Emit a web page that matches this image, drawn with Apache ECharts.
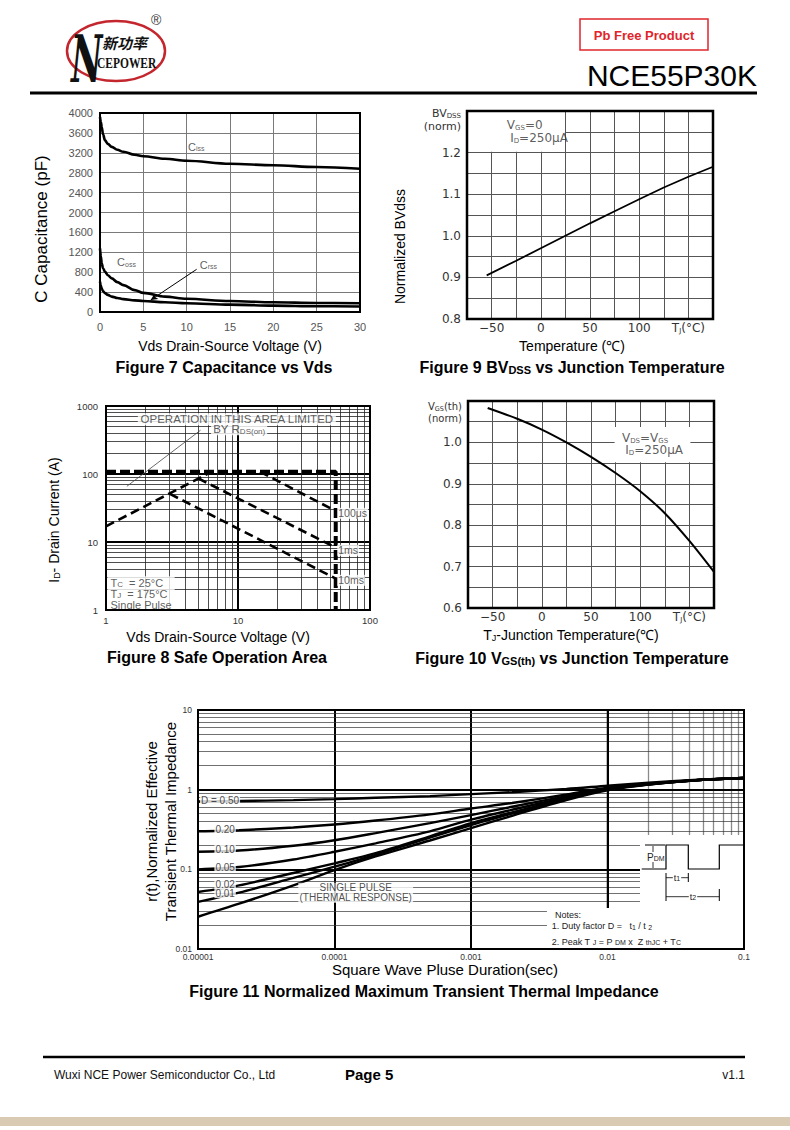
<!DOCTYPE html>
<html>
<head>
<meta charset="utf-8">
<title>NCE55P30K - Page 5</title>
<script src="https://cdn.jsdelivr.net/npm/echarts@6/dist/echarts.min.js"></script>
<style>
html,body{margin:0;padding:0;background:#fff;}
#page{width:790px;height:1130px;}
</style>
</head>
<body>
<div id="page"></div>
<script>
// ================= DATA =================
// Figure 7: Capacitance vs Vds
const capVds = [0, 0.1, 0.2, 0.35, 0.58, 0.9, 1.35, 2, 2.7, 4, 5, 7.5, 10, 15, 20, 25, 30];
const cissPF = [3920, 3820, 3720, 3570, 3450, 3380, 3320, 3260, 3220, 3160, 3130, 3080, 3040, 2980, 2950, 2915, 2880];
const cossPF = [1280, 1120, 980, 880, 810, 740, 675, 600, 540, 440, 385, 310, 265, 220, 195, 182, 175];
const crssPF = [610, 530, 470, 420, 380, 345, 310, 280, 258, 234, 222, 196, 176, 148, 128, 116, 110];
const capLabelText = ['C{s|iss}', 'C{s|oss}', 'C{s|rss}'];
const capLabelX = [11.1, 3.06, 12.5];
const capLabelY = [3317, 999, 945];
const crssArrowX = [11.15, 5.85];
const crssArrowY = [858, 241];

// Figure 9: BVdss vs Tj
const bvTemp = [-55, -25, 0, 25, 50, 75, 100, 125, 150, 175];
const bvNorm = [0.905, 0.94, 0.97, 1.0, 1.03, 1.059, 1.088, 1.116, 1.142, 1.166];
const tempTickVals = [-50, 0, 50, 100, 150];
const tempTickText = ['\u221250', '0', '50', '100', 'T{j|J}(\u00B0C)'];
const bvTickVals = [0.8, 0.9, 1.0, 1.1, 1.2, 1.3];
const bvTickText = ['0.8', '0.9', '1.0', '1.1', '1.2', '{e|}\n{a|BV}{b|DSS}\n{a|(norm)}'];
const bvBoxX = [-75, 24.5];
const bvBoxY = [1.3, 1.202];
const bvNoteText = '{n|V}{s|GS}{n|=0}\n {n|I}{s|D}{n|=250\u03BCA}';
const bvNoteAt = [-35, 1.251];

// Figure 8: Safe operation area
const soaLimitV = [1, 55, 55];
const soaLimitI = [108, 108, 1];
const rdsLimitV = [1, 6.2];
const rdsLimitI = [17, 106];
const pulse100usV = [14.7, 55];
const pulse100usI = [108, 28.5];
const pulse1msV = [5, 55];
const pulse1msI = [86, 8.3];
const pulse10msV = [3.05, 55];
const pulse10msI = [51, 2.9];
const rdsPointerV = [1.44, 5.2];
const rdsPointerI = [66, 440];
const soaXTickExp = [0, 1, 2];
const soaXTickText = ['1', '10', '100'];
const soaYTickExp = [0, 1, 2, 3];
const soaYTickText = ['1', '10', '100', '1000'];
const soaCenterText = ['OPERATION IN THIS AREA LIMITED', 'BY R{s|DS(on)}'];
const soaCenterV = [9.8, 10.2];
const soaCenterI = [637, 454];
const soaRightText = ['100\u03BCs', '1ms', '10ms'];
const soaRightV = [55, 55, 55];
const soaRightI = [26.4, 7.55, 2.73];
const soaCondText = ['T{s|C}  = 25\u00B0C\nT{s|J}  = 175\u00B0C\nSingle Pulse'];
const soaCondV = [1];
const soaCondI = [1.76];

// Figure 10: Vgs(th) vs Tj
const vthTemp = [-55, -25, 0, 25, 50, 75, 100, 125, 150, 175];
const vthNorm = [1.083, 1.057, 1.031, 1.0, 0.965, 0.926, 0.882, 0.829, 0.762, 0.687];
const vthTickVals = [0.6, 0.7, 0.8, 0.9, 1.0, 1.1];
const vthTickText = ['0.6', '0.7', '0.8', '0.9', '1.0', '{e|}\n{a|V}{b|GS}{a|(th)}\n{a|(norm)}'];
const vthBoxX = [74, 151];
const vthBoxY = [1.037, 0.952];
const vthNoteText = '{n|V}{s|DS}{n|=V}{s|GS}\n {n|I}{s|D}{n|=250\u03BCA}';
const vthNoteAt = [81, 0.996];

// Figure 11: Transient thermal impedance
const ztTime = [1e-5, 2e-5, 5e-5, 1e-4, 2e-4, 5e-4, 1e-3, 2e-3, 5e-3, 1e-2, 2e-2, 5e-2, 1e-1];
const zD50 = [0.71, 0.72, 0.74, 0.76, 0.79, 0.83, 0.88, 0.93, 1.02, 1.12, 1.22, 1.34, 1.40];
const zD20 = [0.30, 0.31, 0.335, 0.365, 0.41, 0.49, 0.58, 0.68, 0.87, 1.06, 1.19, 1.33, 1.40];
const zD10 = [0.166, 0.172, 0.198, 0.232, 0.285, 0.38, 0.48, 0.61, 0.83, 1.03, 1.18, 1.33, 1.40];
const zD05 = [0.100, 0.107, 0.133, 0.166, 0.212, 0.30, 0.42, 0.56, 0.80, 1.02, 1.17, 1.33, 1.40];
const zD02 = [0.052, 0.063, 0.090, 0.119, 0.160, 0.26, 0.38, 0.52, 0.77, 1.01, 1.17, 1.33, 1.40];
const zD01 = [0.039, 0.051, 0.078, 0.108, 0.152, 0.25, 0.36, 0.50, 0.76, 1.00, 1.16, 1.33, 1.40];
const zSingle = [0.0254, 0.037, 0.063, 0.098, 0.145, 0.23, 0.33, 0.47, 0.74, 0.98, 1.16, 1.33, 1.40];
const ztLabelText = ['D = 0.50', '0.20', '0.10', '0.05', '0.02', '0.01', 'SINGLE PULSE\n(THERMAL RESPONSE)'];
const ztLabelX = [1.45e-5, 1.58e-5, 1.58e-5, 1.58e-5, 1.58e-5, 1.58e-5, 1.43e-4];
const ztLabelY = [0.726, 0.318, 0.175, 0.104, 0.0654, 0.0503, 0.051];
const ztXTickExp = [-5, -4, -3, -2, -1];
const ztXTickText = ['0.00001', '0.0001', '0.001', '0.01', '0.1'];
const ztYTickExp = [-2, -1, 0, 1];
const ztYTickText = ['0.01', '0.1', '1', '10'];
const ztNotesBox = [[0.0036, 0.0326], [0.0985, 0.0102]];
const ztPdmBox = [[0.0173, 0.269], [0.0985, 0.0326]];

// ================= HELPERS =================
const F = '"Liberation Sans", Arial, Helvetica, sans-serif';
const FN = '"Liberation Sans Narrow", "Liberation Sans", Arial, sans-serif';
const DJ = '"DejaVu Sans", Verdana, sans-serif';
const zip = (xs, ys) => xs.map((x, i) => [x, ys[i]]);
const lookup = (vals, texts) => v => {
  for (let i = 0; i < vals.length; i++) if (Math.abs(vals[i] - v) < 1e-6) return texts[i];
  return '';
};
const logLookup = (exps, texts) => v => {
  const e = Math.round(Math.log10(v));
  if (Math.abs(Math.log10(v) - e) > 1e-6) return '';
  const i = exps.indexOf(e);
  return i < 0 ? '' : texts[i];
};
const minors = (e0, e1) => {
  const out = [];
  for (let e = e0; e < e1; e++) for (let k = 2; k <= 9; k++) out.push(k * Math.pow(10, e));
  return out;
};
const decades = (e0, e1) => {
  const out = [];
  for (let e = e0; e <= e1; e++) out.push(Math.pow(10, e));
  return out;
};
const gridBox = (l, t, w, h, bw) => ({
  left: l, top: t, width: w, height: h, show: true, z: 10,
  backgroundColor: 'transparent', borderColor: '#000', borderWidth: bw,
  containLabel: false, outerBoundsMode: 'none'
});
const noAxisLine = { axisLine: { show: false }, axisTick: { show: false } };
const curve = (idx, xs, ys, width, extra) => Object.assign({
  type: 'line', xAxisIndex: idx, yAxisIndex: idx, data: zip(xs, ys),
  showSymbol: false, symbol: 'none', silent: true, z: 3,
  lineStyle: { color: '#000', width: width }
}, extra || {});
const labelSeries = (idx, xs, ys, texts, label, z) => ({
  type: 'scatter', xAxisIndex: idx, yAxisIndex: idx, silent: true, z: z || 4,
  symbolSize: 1, itemStyle: { color: 'rgba(0,0,0,0)' },
  data: xs.map((x, i) => [x, ys[i], texts[i]]),
  label: Object.assign({ show: true, formatter: p => p.data[2] }, label)
});
const gridLines = (idx, anchor, vx, vy, styleX, styleY, z) => ({
  type: 'line', xAxisIndex: idx, yAxisIndex: idx, data: [anchor], silent: true, z: z || 1,
  showSymbol: false, symbol: 'none', lineStyle: { width: 0 },
  markLine: {
    silent: true, symbol: ['none', 'none'], z: z || 1, animation: false, label: { show: false },
    data: vx.map(v => ({ xAxis: v, lineStyle: styleX })).concat(vy.map(v => ({ yAxis: v, lineStyle: styleY })))
  }
});

// ================= OPTION =================
const option = {
  animation: false,
  backgroundColor: '#fff',
  textStyle: { fontFamily: F },
  grid: [
    gridBox(100, 113, 260, 199, 2),
    gridBox(467, 111, 246, 208, 2.5),
    gridBox(106, 406, 264, 204, 2),
    gridBox(468, 401, 246, 207, 2.5),
    gridBox(198, 710, 546, 239, 2)
  ],
  xAxis: [
    Object.assign({
      gridIndex: 0, type: 'value', min: 0, max: 30, interval: 5,
      splitLine: { show: true, lineStyle: { color: '#7a7a7a', width: 1 } },
      axisLabel: { color: '#555', fontSize: 11, margin: 9, fontFamily: F, hideOverlap: false, formatter: v => String(v) },
      name: 'Vds Drain-Source Voltage (V)', nameLocation: 'middle', nameGap: 27, nameMoveOverlap: false,
      nameTextStyle: { fontSize: 14, color: '#000', fontFamily: F }
    }, noAxisLine),
    Object.assign({
      gridIndex: 1, type: 'value', min: -75, max: 175, interval: 25,
      splitLine: { show: true, lineStyle: { color: '#555', width: 1 } },
      axisLabel: { color: '#333', fontSize: 12, margin: 3, fontFamily: DJ, hideOverlap: false,
        formatter: lookup(tempTickVals, tempTickText), rich: { j: { fontSize: 7, fontFamily: DJ, verticalAlign: 'bottom', color: '#333' } } },
      name: 'Temperature (\u2103)', nameLocation: 'middle', nameGap: 20, nameMoveOverlap: false,
      nameTextStyle: { fontSize: 14, color: '#000', fontFamily: F, padding: [0, 36, 0, 0] }
    }, noAxisLine),
    Object.assign({
      gridIndex: 2, type: 'log', logBase: 10, min: 1, max: 100,
      splitLine: { show: true, lineStyle: { color: '#000', width: 2 } },
      axisLabel: { color: '#333', fontSize: 9.5, margin: 5, fontFamily: F, hideOverlap: false,
        formatter: logLookup(soaXTickExp, soaXTickText) },
      name: 'Vds Drain-Source Voltage (V)', nameLocation: 'middle', nameGap: 20, nameMoveOverlap: false,
      nameTextStyle: { fontSize: 14, color: '#000', fontFamily: F, padding: [0, 40, 0, 0] }
    }, noAxisLine),
    Object.assign({
      gridIndex: 3, type: 'value', min: -75, max: 175, interval: 25,
      splitLine: { show: true, lineStyle: { color: '#555', width: 1 } },
      axisLabel: { color: '#333', fontSize: 12, margin: 3, fontFamily: DJ, hideOverlap: false,
        formatter: lookup(tempTickVals, tempTickText), rich: { j: { fontSize: 7, fontFamily: DJ, verticalAlign: 'bottom', color: '#333' } } },
      name: 'T{s|J}-Junction Temperature(\u2103)', nameLocation: 'middle', nameGap: 20, nameMoveOverlap: false,
      nameTextStyle: { fontSize: 14, color: '#000', fontFamily: F, padding: [0, 40, 0, 0],
        rich: { s: { fontSize: 9, fontFamily: F, verticalAlign: 'bottom', color: '#000' } } }
    }, noAxisLine),
    Object.assign({
      gridIndex: 4, type: 'log', logBase: 10, min: 1e-5, max: 0.1,
      splitLine: { show: true, lineStyle: { color: '#000', width: 2 } },
      axisLabel: { color: '#333', fontSize: 8.5, lineHeight: 8, margin: 4, fontFamily: FN, hideOverlap: false,
        formatter: logLookup(ztXTickExp, ztXTickText) },
      name: 'Square Wave Pluse Duration(sec)', nameLocation: 'middle', nameGap: 13, nameMoveOverlap: false,
      nameTextStyle: { fontSize: 15, lineHeight: 15, color: '#000', fontFamily: F, padding: [0, 52, 0, 0] }
    }, noAxisLine)
  ],
  yAxis: [
    Object.assign({
      gridIndex: 0, type: 'value', min: 0, max: 4000, interval: 400,
      splitLine: { show: true, lineStyle: { color: '#7a7a7a', width: 1 } },
      axisLabel: { color: '#555', fontSize: 11, margin: 7, fontFamily: F, hideOverlap: false, formatter: v => String(v) },
      name: 'C Capacitance (pF)', nameLocation: 'middle', nameGap: 50, nameMoveOverlap: false,
      nameTextStyle: { fontSize: 17, color: '#000', fontFamily: F, padding: [0, 33, 0, 0] }
    }, noAxisLine),
    Object.assign({
      gridIndex: 1, type: 'value', min: 0.8, max: 1.3, interval: 0.05,
      splitLine: { show: true, lineStyle: { color: '#555', width: 1 } },
      axisLabel: { color: '#333', fontSize: 12, margin: 6, fontFamily: DJ, hideOverlap: false,
        formatter: lookup(bvTickVals, bvTickText),
        rich: { a: { fontSize: 11, fontFamily: DJ, color: '#333', lineHeight: 13 },
                b: { fontSize: 7, fontFamily: DJ, color: '#333', verticalAlign: 'bottom', lineHeight: 13 },
                e: { fontSize: 1, lineHeight: 17 } } },
      name: 'Normalized BVdss', nameLocation: 'middle', nameGap: 60, nameMoveOverlap: false,
      nameTextStyle: { fontSize: 14, color: '#000', fontFamily: F, padding: [0, 63, 0, 0] }
    }, noAxisLine),
    Object.assign({
      gridIndex: 2, type: 'log', logBase: 10, min: 1, max: 1000,
      splitLine: { show: true, lineStyle: { color: '#000', width: 2 } },
      axisLabel: { color: '#333', fontSize: 9.5, margin: 8, fontFamily: F, hideOverlap: false,
        formatter: logLookup(soaYTickExp, soaYTickText) },
      name: 'I{s|D}- Drain Current (A)', nameLocation: 'middle', nameGap: 45, nameMoveOverlap: false,
      nameTextStyle: { fontSize: 14, color: '#000', fontFamily: F, padding: [0, 24, 0, 0],
        rich: { s: { fontSize: 9, fontFamily: F, verticalAlign: 'bottom', color: '#000' } } }
    }, noAxisLine),
    Object.assign({
      gridIndex: 3, type: 'value', min: 0.6, max: 1.1, interval: 0.05,
      splitLine: { show: true, lineStyle: { color: '#555', width: 1 } },
      axisLabel: { color: '#333', fontSize: 12, margin: 6, fontFamily: DJ, hideOverlap: false,
        formatter: lookup(vthTickVals, vthTickText),
        rich: { a: { fontSize: 10, fontFamily: DJ, color: '#333', lineHeight: 12 },
                b: { fontSize: 6.5, fontFamily: DJ, color: '#333', verticalAlign: 'bottom', lineHeight: 12 },
                e: { fontSize: 1, lineHeight: 23 } } }
    }, noAxisLine),
    Object.assign({
      gridIndex: 4, type: 'log', logBase: 10, min: 0.01, max: 10,
      splitLine: { show: true, lineStyle: { color: '#000', width: 2 } },
      axisLabel: { color: '#333', fontSize: 8.5, lineHeight: 8, margin: 6, fontFamily: FN, hideOverlap: false,
        formatter: logLookup(ztYTickExp, ztYTickText) },
      name: 'r(t),Normalized Effective\nTransient Thermal Impedance', nameLocation: 'middle', nameGap: 18, nameMoveOverlap: false,
      nameTextStyle: { fontSize: 15, lineHeight: 19, color: '#000', fontFamily: F, padding: [0, 0, 0, 16] }
    }, noAxisLine)
  ],
  series: [
    // ---- Figure 7 ----
    curve(0, capVds, cissPF, 2.6, { smooth: 0.35, smoothMonotone: 'x' }),
    curve(0, capVds, cossPF, 2.6, { smooth: 0.35, smoothMonotone: 'x' }),
    curve(0, capVds, crssPF, 2.6, { smooth: 0.35, smoothMonotone: 'x',
      markLine: { silent: true, symbol: ['none', 'arrow'], symbolSize: [5, 7], label: { show: false },
        lineStyle: { color: '#000', width: 1, type: 'solid' },
        data: [[{ coord: [crssArrowX[0], crssArrowY[0]] }, { coord: [crssArrowX[1], crssArrowY[1]] }]] } }),
    labelSeries(0, capLabelX, capLabelY, capLabelText, { position: 'inside', color: '#333', fontSize: 11, fontFamily: F,
      rich: { s: { fontSize: 7, fontFamily: F, color: '#333', verticalAlign: 'bottom' } } }),

    // ---- Figure 9 ----
    curve(1, bvTemp, bvNorm, 1.8, {
      markArea: { silent: true, z: 1, itemStyle: { color: '#fff' }, label: { show: false },
        data: [[{ coord: [bvBoxX[0], bvBoxY[0]] }, { coord: [bvBoxX[1], bvBoxY[1]] }]] } }),
    labelSeries(1, [bvNoteAt[0]], [bvNoteAt[1]], [bvNoteText], { position: 'right', distance: 0, color: '#333',
      rich: { n: { fontSize: 12, fontFamily: DJ, color: '#333', lineHeight: 13 },
              s: { fontSize: 7, fontFamily: DJ, color: '#333', verticalAlign: 'bottom', lineHeight: 13 } } }),

    // ---- Figure 8 ----
    gridLines(2, [1, 1], minors(0, 2), minors(0, 3),
      { color: '#222', width: 0.8, type: 'solid' }, { color: '#222', width: 0.8, type: 'solid' }),
    curve(2, soaLimitV, soaLimitI, 4, { lineStyle: { color: '#000', width: 4, type: [10, 4] } }),
    curve(2, rdsLimitV, rdsLimitI, 2.6, { lineStyle: { color: '#000', width: 2.6, type: [9, 5] } }),
    curve(2, pulse100usV, pulse100usI, 2.6, { lineStyle: { color: '#000', width: 2.6, type: [9, 5] } }),
    curve(2, pulse1msV, pulse1msI, 2.6, { lineStyle: { color: '#000', width: 2.6, type: [9, 5] } }),
    curve(2, pulse10msV, pulse10msI, 2.6, { lineStyle: { color: '#000', width: 2.6, type: [9, 5] } }),
    curve(2, rdsPointerV, rdsPointerI, 0.8, { lineStyle: { color: '#444', width: 0.8 } }),
    labelSeries(2, soaCenterV, soaCenterI, soaCenterText, { position: 'inside', color: '#333', fontSize: 11.5, fontFamily: F,
      backgroundColor: '#fff', padding: [0, 2], rich: { s: { fontSize: 8, fontFamily: F, color: '#333', verticalAlign: 'bottom' } } }),
    labelSeries(2, soaRightV, soaRightI, soaRightText, { position: 'right', distance: 1, color: '#333', fontSize: 10.5, fontFamily: F,
      backgroundColor: '#fff', padding: [0, 1] }),
    labelSeries(2, soaCondV, soaCondI, soaCondText, { position: 'right', distance: 1, color: '#333', fontSize: 11, fontFamily: F,
      lineHeight: 11, backgroundColor: '#fff', padding: [1, 3, 0, 3],
      rich: { s: { fontSize: 8, fontFamily: F, color: '#333', verticalAlign: 'bottom', lineHeight: 11 } } }),

    // ---- Figure 10 ----
    curve(3, vthTemp, vthNorm, 2, { smooth: 0.3,
      markArea: { silent: true, z: 1, itemStyle: { color: '#fff' }, label: { show: false },
        data: [[{ coord: [vthBoxX[0], vthBoxY[0]] }, { coord: [vthBoxX[1], vthBoxY[1]] }]] } }),
    labelSeries(3, [vthNoteAt[0]], [vthNoteAt[1]], [vthNoteText], { position: 'right', distance: 0, color: '#333',
      rich: { n: { fontSize: 12, fontFamily: DJ, color: '#333', lineHeight: 12 },
              s: { fontSize: 7, fontFamily: DJ, color: '#333', verticalAlign: 'bottom', lineHeight: 12 } } }),

    // ---- Figure 11 ----
    gridLines(4, [1e-5, 0.01], minors(-5, -1), minors(-2, 1),
      { color: '#8a8a8a', width: 1.3, type: 'solid' }, { color: '#333', width: 0.7, type: 'solid' }),
    gridLines(4, [1e-5, 0.01], decades(-4, -2), decades(-1, 0),
      { color: '#000', width: 2, type: 'solid' }, { color: '#000', width: 2, type: 'solid' }, 1.2),
    {
      type: 'line', xAxisIndex: 4, yAxisIndex: 4, data: [[1e-5, 0.01]], silent: true, z: 2,
      showSymbol: false, symbol: 'none', lineStyle: { width: 0 },
      markArea: { silent: true, z: 2, itemStyle: { color: '#fff' }, label: { show: false },
        data: [
          [{ coord: ztNotesBox[0] }, { coord: ztNotesBox[1] }],
          [{ coord: ztPdmBox[0] }, { coord: ztPdmBox[1] }]
        ] }
    },
    curve(4, ztTime, zD50, 2.4, { smooth: 0.3 }),
    curve(4, ztTime, zD20, 2.4, { smooth: 0.3 }),
    curve(4, ztTime, zD10, 2.4, { smooth: 0.3 }),
    curve(4, ztTime, zD05, 2.4, { smooth: 0.3 }),
    curve(4, ztTime, zD02, 2.4, { smooth: 0.3 }),
    curve(4, ztTime, zD01, 2.4, { smooth: 0.3 }),
    curve(4, ztTime, zSingle, 2.4, { smooth: 0.3 }),
    labelSeries(4, ztLabelX, ztLabelY, ztLabelText, { position: 'inside', color: '#222', fontSize: 10, fontFamily: FN,
      lineHeight: 10, backgroundColor: '#fff', padding: [0, 1] }, 5)
  ],
  graphic: [
    // header logo
    { type: 'ellipse', shape: { cx: 116, cy: 51, rx: 49, ry: 30 }, style: { fill: 'none', stroke: '#c4262e', lineWidth: 2.5 }, z: 20 },
    { type: 'text', x: 71, y: 26, z: 21, scaleX: 0.52, style: { text: 'N', fontSize: 66, fontWeight: 'bold', fontStyle: 'italic', fontFamily: '"DejaVu Serif", serif', fill: '#111' } },
    { type: 'text', x: 102, y: 35, z: 21, style: { text: '\u65B0\u529F\u7387', fontSize: 15, fontWeight: 'bold', fontStyle: 'italic', fontFamily: '"Noto Sans CJK SC", sans-serif', fill: '#111' } },
    { type: 'text', x: 97, y: 57, z: 21, scaleX: 0.82, style: { text: 'CEPOWER', fontSize: 14, fontWeight: 'bold', fontFamily: '"Liberation Serif", serif', fill: '#111' } },
    { type: 'text', x: 151, y: 13, z: 21, style: { text: '\u00AE', fontSize: 14, fontFamily: F, fill: '#333' } },
    // Pb free box
    { type: 'rect', shape: { x: 580, y: 19, width: 128, height: 31 }, style: { fill: '#fff', stroke: '#e0262c', lineWidth: 1.5 }, z: 20 },
    { type: 'text', x: 644, y: 35, z: 21, style: { text: 'Pb Free Product', fontSize: 13, fontWeight: 'bold', fontFamily: F, fill: '#e0262c', align: 'center', verticalAlign: 'middle', textAlign: 'center', textVerticalAlign: 'middle' } },
    { type: 'text', x: 757, y: 75, z: 21, style: { text: 'NCE55P30K', fontSize: 30, fontFamily: F, fill: '#000', align: 'right', verticalAlign: 'middle', textAlign: 'right', textVerticalAlign: 'middle' } },
    { type: 'line', shape: { x1: 30, y1: 93, x2: 757, y2: 93 }, style: { stroke: '#000', lineWidth: 3 }, z: 20 },
    // captions
    { type: 'text', x: 224, y: 367, z: 21, style: { text: 'Figure 7 Capacitance vs Vds', fontSize: 16, fontWeight: 'bold', fontFamily: F, fill: '#000', align: 'center', verticalAlign: 'middle', textAlign: 'center', textVerticalAlign: 'middle' } },
    { type: 'text', x: 572, y: 367, z: 21, style: { text: 'Figure 9 BV{s|DSS} vs Junction Temperature', fontSize: 16, fontWeight: 'bold', fontFamily: F, fill: '#000', align: 'center', verticalAlign: 'middle', textAlign: 'center', textVerticalAlign: 'middle',
      rich: { s: { fontSize: 11, fontWeight: 'bold', fontFamily: F, fill: '#000', verticalAlign: 'bottom', padding: [6, 0, 0, 0] } } } },
    { type: 'text', x: 217, y: 657, z: 21, style: { text: 'Figure 8 Safe Operation Area', fontSize: 16, fontWeight: 'bold', fontFamily: F, fill: '#000', align: 'center', verticalAlign: 'middle', textAlign: 'center', textVerticalAlign: 'middle' } },
    { type: 'text', x: 572, y: 658, z: 21, style: { text: 'Figure 10 V{s|GS(th)} vs Junction Temperature', fontSize: 16, fontWeight: 'bold', fontFamily: F, fill: '#000', align: 'center', verticalAlign: 'middle', textAlign: 'center', textVerticalAlign: 'middle',
      rich: { s: { fontSize: 11, fontWeight: 'bold', fontFamily: F, fill: '#000', verticalAlign: 'bottom', padding: [6, 0, 0, 0] } } } },
    { type: 'text', x: 424, y: 991, z: 21, style: { text: 'Figure 11 Normalized Maximum Transient Thermal Impedance', fontSize: 16, fontWeight: 'bold', fontFamily: F, fill: '#000', align: 'center', verticalAlign: 'middle', textAlign: 'center', textVerticalAlign: 'middle' } },
    // Figure 11 inset: pulse waveform
    { type: 'polyline', z: 20, shape: { points: [[641.7, 869], [666, 869], [666, 845], [688.3, 845], [688.3, 869], [719.3, 869], [719.3, 845], [743, 845]] }, style: { fill: 'none', stroke: '#000', lineWidth: 1.2 } },
    { type: 'line', z: 20, shape: { x1: 645, y1: 845, x2: 665, y2: 845 }, style: { stroke: '#000', lineWidth: 1 } },
    { type: 'line', z: 20, shape: { x1: 653, y1: 846, x2: 653, y2: 868 }, style: { stroke: '#000', lineWidth: 0.8 } },
    { type: 'text', z: 21, x: 647, y: 857, style: { text: 'P{s|DM}', fontSize: 10, fontFamily: FN, fill: '#222', verticalAlign: 'middle', textVerticalAlign: 'middle', backgroundColor: '#fff',
      rich: { s: { fontSize: 7, fontFamily: FN, fill: '#222', verticalAlign: 'bottom' } } } },
    { type: 'line', z: 20, shape: { x1: 666, y1: 873, x2: 666, y2: 901 }, style: { stroke: '#000', lineWidth: 1 } },
    { type: 'line', z: 20, shape: { x1: 688.3, y1: 873, x2: 688.3, y2: 882 }, style: { stroke: '#000', lineWidth: 1 } },
    { type: 'line', z: 20, shape: { x1: 719.3, y1: 889, x2: 719.3, y2: 901 }, style: { stroke: '#000', lineWidth: 1 } },
    { type: 'line', z: 20, shape: { x1: 666, y1: 877.7, x2: 688.3, y2: 877.7 }, style: { stroke: '#000', lineWidth: 0.8 } },
    { type: 'line', z: 20, shape: { x1: 666, y1: 896.7, x2: 719.3, y2: 896.7 }, style: { stroke: '#000', lineWidth: 0.8 } },
    { type: 'text', z: 21, x: 677, y: 877.5, style: { text: 't{s|1}', fontSize: 9, fontFamily: FN, fill: '#222', align: 'center', verticalAlign: 'middle', textAlign: 'center', textVerticalAlign: 'middle', backgroundColor: '#fff', padding: [0, 1],
      rich: { s: { fontSize: 7, fontFamily: FN, fill: '#222', verticalAlign: 'bottom' } } } },
    { type: 'text', z: 21, x: 693, y: 896.5, style: { text: 't{s|2}', fontSize: 9, fontFamily: FN, fill: '#222', align: 'center', verticalAlign: 'middle', textAlign: 'center', textVerticalAlign: 'middle', backgroundColor: '#fff', padding: [0, 1],
      rich: { s: { fontSize: 7, fontFamily: FN, fill: '#222', verticalAlign: 'bottom' } } } },
    // Figure 11 notes
    { type: 'text', z: 21, x: 555, y: 915, style: { text: 'Notes:', fontSize: 9, fontFamily: FN, fill: '#222', verticalAlign: 'middle', textVerticalAlign: 'middle' } },
    { type: 'text', z: 21, x: 551.7, y: 926, style: { text: '1. Duty factor D =   t{s|1} / t {s|2}', fontSize: 9, fontFamily: FN, fill: '#222', verticalAlign: 'middle', textVerticalAlign: 'middle',
      rich: { s: { fontSize: 7, fontFamily: FN, fill: '#222', verticalAlign: 'bottom' } } } },
    { type: 'text', z: 21, x: 551.7, y: 941.5, style: { text: '2. Peak T {s|J} = P {s|DM} x  Z {s|thJC} + T{s|C}', fontSize: 9, fontFamily: FN, fill: '#222', verticalAlign: 'middle', textVerticalAlign: 'middle',
      rich: { s: { fontSize: 7, fontFamily: FN, fill: '#222', verticalAlign: 'bottom' } } } },
    // footer
    { type: 'line', shape: { x1: 43, y1: 1057, x2: 745, y2: 1057 }, style: { stroke: '#000', lineWidth: 2.5 }, z: 20 },
    { type: 'text', x: 54, y: 1075, z: 21, style: { text: 'Wuxi NCE Power Semiconductor Co., Ltd', fontSize: 12, fontFamily: F, fill: '#111', verticalAlign: 'middle', textVerticalAlign: 'middle' } },
    { type: 'text', x: 345, y: 1074, z: 21, style: { text: 'Page 5', fontSize: 15, fontWeight: 'bold', fontFamily: F, fill: '#000', verticalAlign: 'middle', textVerticalAlign: 'middle' } },
    { type: 'text', x: 745, y: 1075, z: 21, style: { text: 'v1.1', fontSize: 12, fontFamily: F, fill: '#111', align: 'right', verticalAlign: 'middle', textAlign: 'right', textVerticalAlign: 'middle' } },
    { type: 'rect', shape: { x: 0, y: 1117, width: 790, height: 9 }, style: { fill: '#d9cbb3' }, z: 20 }
  ]
};

const chart = echarts.init(document.getElementById('page'), null, { renderer: 'svg', width: 790, height: 1130 });
chart.setOption(option);
</script>
</body>
</html>
